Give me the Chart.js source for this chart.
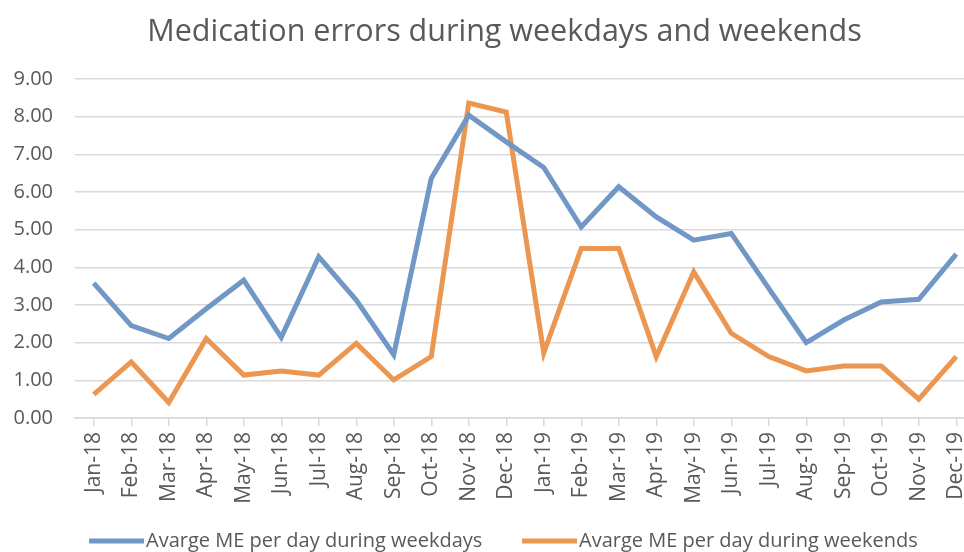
<!DOCTYPE html>
<html>
<head>
<meta charset="utf-8">
<script src="https://cdn.jsdelivr.net/npm/chart.js@4/dist/chart.umd.min.js"></script>
<style>
  html, body { margin: 0; padding: 0; background: #fff; overflow: hidden; }
  canvas { display: block; }
</style>
</head>
<body>
<canvas id="chart" width="1008" height="552"></canvas>
<script>
// months on the x axis
var months = ["Jan-18","Feb-18","Mar-18","Apr-18","May-18","Jun-18","Jul-18","Aug-18","Sep-18","Oct-18","Nov-18","Dec-18",
              "Jan-19","Feb-19","Mar-19","Apr-19","May-19","Jun-19","Jul-19","Aug-19","Sep-19","Oct-19","Nov-19","Dec-19"];

// average medication errors per day
var weekdays = [3.58, 2.45, 2.11, 2.90, 3.66, 2.14, 4.28, 3.13, 1.68, 6.36, 8.04, 7.33,
                6.65, 5.07, 6.14, 5.34, 4.72, 4.90, 3.44, 2.00, 2.60, 3.08, 3.15, 4.35];
var weekends = [0.63, 1.49, 0.41, 2.11, 1.14, 1.25, 1.14, 1.98, 1.01, 1.63, 8.36, 8.12,
                1.73, 4.50, 4.50, 1.63, 3.88, 2.25, 1.63, 1.25, 1.38, 1.38, 0.50, 1.63];

var seriesNames = ["Avarge ME per day during weekdays", "Avarge ME per day during weekends"];
var yTicks = [0, 1, 2, 3, 4, 5, 6, 7, 8, 9];

var blue = "#7097c5";
var orange = "#eb9651";
var textColor = "#595959";
var gridColor = "#d9d9d9";
var font = "'Open Sans', 'Noto Sans', sans-serif";

// legend drawn by hand so the two items sit where excel put them
var bottomLegend = {
  id: "bottomLegend",
  afterLayout: function(chart) {
    // excel centres the title a bit to the right of the plot
    if (chart.titleBlock) chart.titleBlock.left += 34;
  },
  afterDraw: function(chart) {
    var c = chart.ctx;
    var y = 541;
    var starts = [89, 522];
    c.save();
    c.font = "20px " + font;
    c.textBaseline = "middle";
    c.fillStyle = textColor;
    chart.data.datasets.forEach(function(ds, i) {
      c.strokeStyle = ds.borderColor;
      c.lineWidth = 5;
      c.beginPath();
      c.moveTo(starts[i], y);
      c.lineTo(starts[i] + 55, y);
      c.stroke();
      c.fillText(ds.label, starts[i] + 57, y);
    });
    c.restore();
  }
};

var ctx = document.getElementById("chart");

var chart = new Chart(ctx, {
  type: "line",
  data: {
    labels: months,
    datasets: [
      {
        label: seriesNames[0],
        data: weekdays,
        borderColor: blue,
        backgroundColor: blue,
        borderWidth: 5,
        pointRadius: 0,
        tension: 0
      },
      {
        label: seriesNames[1],
        data: weekends,
        borderColor: orange,
        backgroundColor: orange,
        borderWidth: 5,
        pointRadius: 0,
        tension: 0
      }
    ]
  },
  plugins: [bottomLegend],
  options: {
    responsive: false,
    animation: false,
    layout: { padding: { left: 0, right: 33, top: 0, bottom: 34 } },
    plugins: {
      title: {
        display: true,
        text: "Medication errors during weekdays and weekends",
        color: textColor,
        font: { family: font, size: 30.5, weight: "normal" },
        padding: { top: 14.5, bottom: 27.9 }
      },
      legend: { display: false },
      tooltip: { enabled: false }
    },
    scales: {
      x: {
        offset: true,
        grid: {
          display: true,
          drawOnChartArea: false,
          tickLength: 8,
          color: gridColor,
          lineWidth: 1.5
        },
        border: { color: gridColor, width: 1.5 },
        ticks: {
          color: textColor,
          font: { family: font, size: 21 },
          minRotation: 90,
          maxRotation: 90,
          autoSkip: false,
          padding: 6
        },
        afterFit: function(scale) { scale.height = 100; }
      },
      y: {
        min: yTicks[0],
        max: yTicks[yTicks.length - 1],
        grid: { color: gridColor, lineWidth: 1.5, drawTicks: false },
        border: { display: false },
        ticks: {
          stepSize: yTicks[1] - yTicks[0],
          autoSkip: false,
          color: textColor,
          font: { family: font, size: 20 },
          padding: 22,
          callback: function(v) { return Number(v).toFixed(2); }
        },
        afterFit: function(scale) { scale.width = 75; }
      }
    }
  }
});
</script>
</body>
</html>
